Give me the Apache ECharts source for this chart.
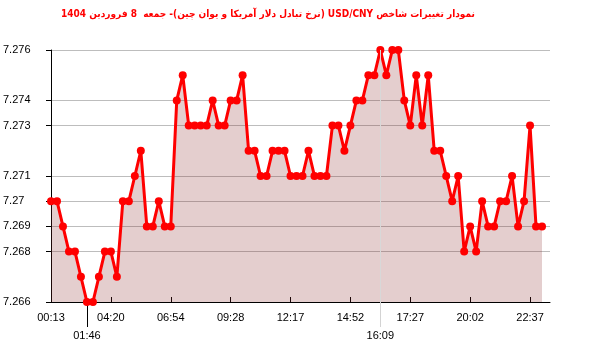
<!DOCTYPE html>
<html>
<head>
<meta charset="utf-8">
<script src="https://cdn.jsdelivr.net/npm/echarts@6/dist/echarts.min.js"></script>
<style>html,body{margin:0;padding:0;background:#fff}#c{width:600px;height:352px}</style>
</head>
<body>
<div id="c"></div>
<script>
const titleText = '\u202Bنمودار تغییرات شاخص USD/CNY (نرخ تبادل دلار آمریکا و یوان چین)- جمعه  8 فروردین 1404\u202C';
const values = [
  7.270, 7.270, 7.269, 7.268, 7.268, 7.267, 7.266, 7.266, 7.267, 7.268,
  7.268, 7.267, 7.270, 7.270, 7.271, 7.272, 7.269, 7.269, 7.270, 7.269,
  7.269, 7.274, 7.275, 7.273, 7.273, 7.273, 7.273, 7.274, 7.273, 7.273,
  7.274, 7.274, 7.275, 7.272, 7.272, 7.271, 7.271, 7.272, 7.272, 7.272,
  7.271, 7.271, 7.271, 7.272, 7.271, 7.271, 7.271, 7.273, 7.273, 7.272,
  7.273, 7.274, 7.274, 7.275, 7.275, 7.276, 7.275, 7.276, 7.276, 7.274,
  7.273, 7.275, 7.273, 7.275, 7.272, 7.272, 7.271, 7.270, 7.271, 7.268,
  7.269, 7.268, 7.270, 7.269, 7.269, 7.270, 7.270, 7.271, 7.269, 7.270,
  7.273, 7.269, 7.269
];
const xTickIdx = [0, 10, 20, 30, 40, 50, 60, 70, 80];
const xTickLabels = ['00:13', '04:20', '06:54', '09:28', '12:17', '14:52', '17:27', '20:02', '22:37'];
const minIdx = [6];
const minLabels = ['01:46'];
const maxIdx = [55];
const maxLabels = ['16:09'];
const yTickValues = [7.266, 7.268, 7.269, 7.27, 7.271, 7.273, 7.274, 7.276];
const yTickLabels = ['7.266', '7.268', '7.269', '7.27', '7.271', '7.273', '7.274', '7.276'];

const X_MAX = 83.3333;
const font = 'Liberation Sans';
function labelFor(idxArr, txtArr) {
  return function (v) {
    for (let i = 0; i < idxArr.length; i++) if (Math.abs(idxArr[i] - v) < 1e-6) return txtArr[i];
    return '';
  };
}
function baseX(extra) {
  return Object.assign({
    type: 'value', min: 0, max: X_MAX, position: 'bottom',
    splitLine: { show: false },
    axisLine: { show: false }
  }, extra);
}

const chart = echarts.init(document.getElementById('c'), null, { renderer: 'canvas' });
chart.setOption({
  animation: false,
  title: {
    text: titleText,
    left: 61, top: 9, padding: 0,
    textStyle: { color: '#ff0000', fontFamily: 'DejaVu Sans Condensed', fontWeight: 'bold', fontSize: 10 }
  },
  grid: { left: 50, right: 50, top: 50, bottom: 50, containLabel: false },
  xAxis: [
    baseX({
      axisLine: { show: true, onZero: false, lineStyle: { color: '#000', width: 1 } },
      axisTick: { show: true, inside: true, length: 5, customValues: xTickIdx, lineStyle: { color: '#000' } },
      axisLabel: { customValues: xTickIdx, formatter: labelFor(xTickIdx, xTickLabels), margin: 10,
        color: '#000', fontFamily: font, fontSize: 11 }
    }),
    baseX({
      axisTick: { show: true, inside: false, length: 25, customValues: minIdx, lineStyle: { color: '#000' } },
      axisLabel: { customValues: minIdx, formatter: labelFor(minIdx, minLabels), margin: 28,
        color: '#000', fontFamily: font, fontSize: 11 }
    }),
    baseX({
      axisTick: { show: true, inside: false, length: 25, customValues: maxIdx, lineStyle: { color: '#d3d3d3' } },
      axisLabel: { customValues: maxIdx, formatter: labelFor(maxIdx, maxLabels), margin: 28,
        color: '#000', fontFamily: font, fontSize: 11 }
    })
  ],
  yAxis: {
    type: 'value', min: 7.266, max: 7.276, interval: 0.001,
    axisLine: { show: true, lineStyle: { color: '#000' } },
    axisTick: { show: true, length: 5, customValues: yTickValues, lineStyle: { color: '#000' } },
    splitLine: { show: true, lineStyle: { color: '#bdbdbd', width: 1 } },
    axisLabel: {
      customValues: yTickValues,
      formatter: labelFor(yTickValues, yTickLabels),
      align: 'left', margin: 48, verticalAlign: 'middle', padding: [0, 0, 7, 0],
      color: '#000', fontFamily: font, fontSize: 11
    }
  },
  series: [{
    type: 'line',
    xAxisIndex: 0,
    data: values.map((v, i) => [i, v]),
    symbol: 'circle', symbolSize: 8,
    lineStyle: { color: '#ff0000', width: 3 },
    itemStyle: { color: '#ff0000' },
    areaStyle: { color: 'rgba(130,30,30,0.22)', opacity: 1, origin: 'start' },
    markLine: {
      silent: true, symbol: 'none', label: { show: false },
      lineStyle: { color: '#d8d8d8', type: 'solid', width: 1 },
      data: maxIdx.map(i => ({ xAxis: i }))
    }
  }]
});
</script>
</body>
</html>
